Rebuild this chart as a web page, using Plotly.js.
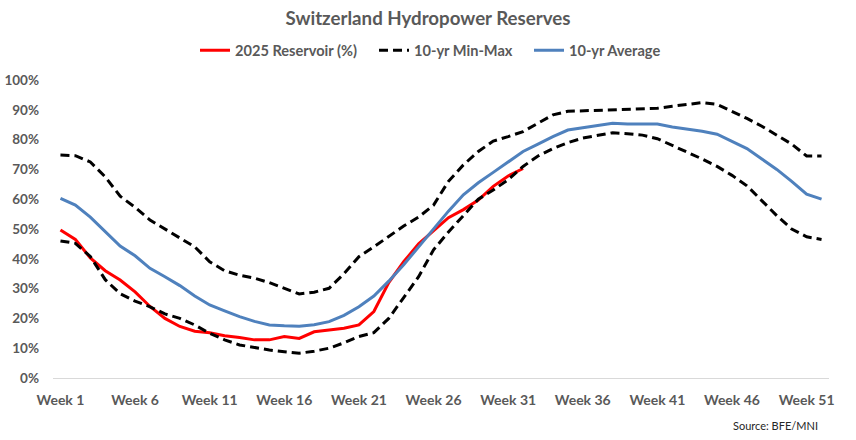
<!DOCTYPE html>
<html>
<head>
<meta charset="utf-8">
<script src="https://cdn.plot.ly/plotly-3.0.1.min.js"></script>
<style>html,body{margin:0;padding:0;background:#fff;}#chart{width:856px;height:440px;}</style>
</head>
<body>
<div id="chart"></div>
<script>
const weeks = Array.from({length: 52}, (_, i) => i + 1);
const tickWeeks = [1, 6, 11, 16, 21, 26, 31, 36, 41, 46, 51];
const tickLabels = ["Week 1", "Week 6", "Week 11", "Week 16", "Week 21", "Week 26", "Week 31", "Week 36", "Week 41", "Week 46", "Week 51"];

const reservoir2025 = [49.7, 46.5, 40.3, 36.0, 32.9, 28.9, 24.0, 20.0, 17.3, 15.7,
  15.2, 14.2, 13.6, 12.8, 12.8, 13.9, 13.3, 15.5, 16.1, 16.7,
  17.8, 22.3, 32.0, 39.0, 45.0, 49.5, 53.8, 56.5, 59.7, 64.3,
  67.8, 70.3];

const tenYrMax = [74.8, 74.6, 72.5, 67.5, 61.0, 57.3, 53.0, 50.0, 47.0, 44.0,
  39.0, 36.0, 34.5, 33.5, 32.0, 30.0, 28.2, 28.8, 30.1, 35.0,
  40.7, 44.0, 47.5, 51.0, 54.0, 58.0, 66.0, 71.5, 76.0, 79.5,
  81.0, 82.7, 85.5, 88.3, 89.5, 89.7, 89.9, 89.9, 90.2, 90.5,
  90.5, 91.2, 91.8, 92.4, 91.8, 89.5, 87.1, 84.5, 81.5, 78.5,
  74.5, 74.5];

const tenYrMin = [46.0, 45.2, 40.8, 33.0, 28.3, 25.8, 23.9, 21.5, 20.0, 17.8,
  15.0, 12.8, 11.1, 10.2, 9.4, 8.8, 8.3, 9.0, 10.0, 11.8,
  13.9, 15.2, 20.0, 27.0, 34.0, 43.0, 49.0, 54.5, 60.0, 63.1,
  66.5, 71.0, 74.5, 77.0, 79.0, 80.5, 81.5, 82.3, 82.0, 81.5,
  80.3, 78.0, 75.9, 73.5, 71.0, 68.0, 64.5, 59.5, 54.5, 50.0,
  47.4, 46.5];

const tenYrAvg = [60.3, 58.0, 54.0, 49.0, 44.3, 41.0, 36.8, 34.0, 31.0, 27.5,
  24.5, 22.5, 20.6, 19.0, 17.8, 17.5, 17.4, 17.9, 18.9, 21.0,
  23.9, 27.5, 32.5, 38.0, 44.0, 50.0, 56.0, 61.5, 65.5, 69.0,
  72.5, 76.0, 78.5, 81.0, 83.2, 84.0, 84.8, 85.5, 85.2, 85.2,
  85.2, 84.2, 83.5, 82.8, 81.8, 79.5, 77.0, 73.5, 70.0, 66.0,
  61.7, 60.0];

const pct = a => a.map(v => v / 100);
const FONT = "Lato, 'Liberation Sans', sans-serif";
const GRAY = "#595959";
const boldFont = (size) => ({family: FONT, size: size, color: GRAY, weight: "bold"});

const traces = [
  {x: weeks.slice(0, reservoir2025.length), y: pct(reservoir2025), name: "2025 Reservoir (%)", mode: "lines",
   legend: "legend", line: {color: "#ff0000", width: 3}},
  {x: weeks, y: pct(tenYrMax), name: "10-yr Min-Max", mode: "lines", legendgroup: "mm",
   legend: "legend2", line: {color: "#000000", width: 3, dash: "9px,5px"}},
  {x: weeks, y: pct(tenYrAvg), name: "10-yr Average", mode: "lines",
   legend: "legend3", line: {color: "#4f81bd", width: 3}},
  {x: weeks, y: pct(tenYrMin), name: "10-yr Min-Max", mode: "lines", legendgroup: "mm", showlegend: false,
   legend: "legend2", line: {color: "#000000", width: 3, dash: "9px,5px"}}
];

const legendBase = (x) => ({orientation: "h", x: x, xanchor: "left", y: 1.1, yanchor: "middle",
  font: boldFont(14.6), itemwidth: 30, bgcolor: "rgba(0,0,0,0)"});

const layout = {
  width: 856, height: 440,
  margin: {l: 53, r: 27, t: 80, b: 62},
  paper_bgcolor: "#ffffff", plot_bgcolor: "#ffffff",
  font: {family: FONT, color: GRAY},
  showlegend: true,
  hovermode: false,
  title: {text: "Switzerland Hydropower Reserves", font: boldFont(18.7),
          x: 0.5, xanchor: "center", y: 0.958, yanchor: "middle"},
  legend: legendBase(0.183),
  legend2: legendBase(0.4137),
  legend3: legendBase(0.6134),
  xaxis: {range: [0.5, 52.5], tickmode: "array", tickvals: tickWeeks, ticktext: tickLabels,
          showgrid: false, zeroline: false, showline: true, linecolor: "#d9d9d9", linewidth: 1,
          ticks: "", ticklabelstandoff: 9, tickfont: boldFont(14), fixedrange: true},
  yaxis: {range: [0, 1], tickmode: "array", tickvals: [0,0.1,0.2,0.3,0.4,0.5,0.6,0.7,0.8,0.9,1],
          tickformat: ".0%", showgrid: false, zeroline: false, showline: false, ticks: "",
          ticklabelstandoff: 13, tickfont: boldFont(13.5), fixedrange: true},
  annotations: [{text: "Source: BFE/MNI", xref: "paper", yref: "paper", x: 0.988, y: -0.158,
                 xanchor: "right", yanchor: "middle", showarrow: false,
                 font: {family: FONT, size: 11, color: "#262626"}}]
};

Plotly.newPlot("chart", traces, layout, {displayModeBar: false, staticPlot: true});
</script>
</body>
</html>
